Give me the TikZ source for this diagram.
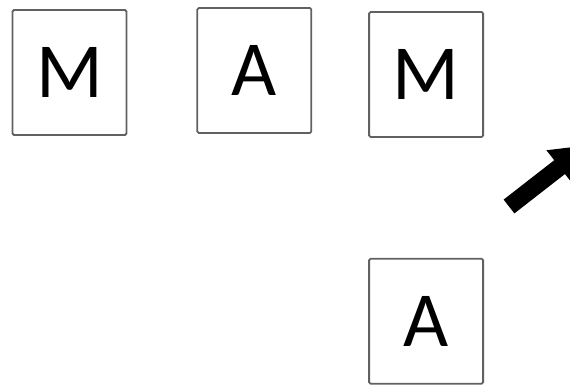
\documentclass[tikz,border=0pt]{standalone}
\usepackage{fontspec}
\setmainfont{Carlito}
\usepackage{tikz}
\usetikzlibrary{arrows.meta, positioning}

\begin{document}
\begin{tikzpicture}[
  x=1pt, y=-1pt,
  node distance=69pt,
  box/.style={draw=black!62, line width=1.8pt, rounded corners=1.5pt, fill=white,
              minimum width=114pt, minimum height=125pt, inner sep=0pt,
              font=\fontsize{78}{80}\selectfont},
  arr/.style={-{Triangle[length=36pt 0 0, width=40pt 0 0]}, line width=17.5pt, draw=black}
]
\useasboundingbox (0,0) rectangle (570,384);
\clip (0,0) rectangle (570,384);
\node[box] (m1) at (69.5,72.5) {M};
\node[box, right=of m1, yshift=2pt] (a1) {A};
\node[box, right=56pt of a1, yshift=-4pt] (m2) {M};
\node[box, below=119pt of m2, yshift=-1pt] (a2) {A};

\coordinate (tail) at (509,206.5);
\coordinate (tip) at (588,145);
\draw[arr] (tail) -- (tip);
\end{tikzpicture}
\end{document}
